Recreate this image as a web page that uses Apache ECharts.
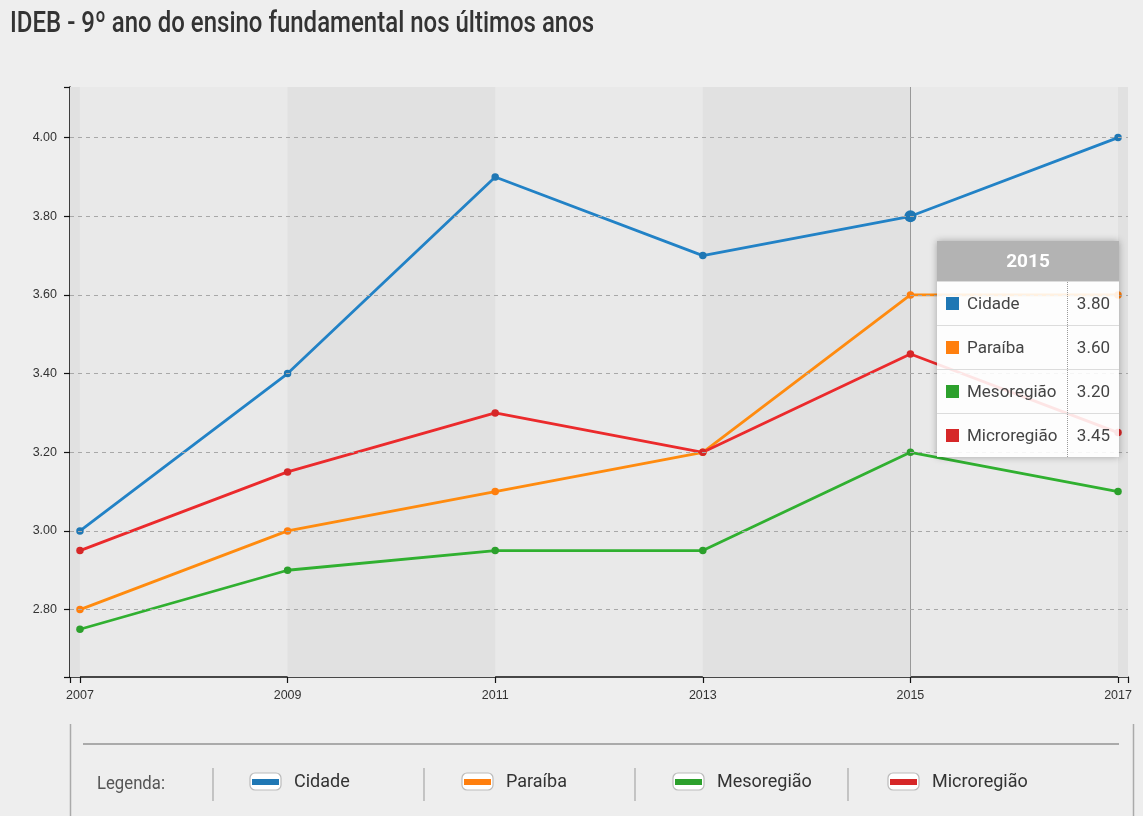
<!DOCTYPE html>
<html>
<head>
<meta charset="utf-8">
<script src="https://cdn.jsdelivr.net/npm/echarts@6/dist/echarts.min.js"></script>
<style>
html,body{margin:0;padding:0;background:#eeeeee;}
#chart{width:1143px;height:816px;}
</style>
</head>
<body>
<div id="chart"></div>
<script>
// ---- data ----
const titleText = 'IDEB - 9º ano do ensino fundamental nos últimos anos';
const years = [2007, 2009, 2011, 2013, 2015, 2017];
const seriesNames = ['Cidade', 'Paraíba', 'Mesoregião', 'Microregião'];
const cidade = [3.00, 3.40, 3.90, 3.70, 3.80, 4.00];
const paraiba = [2.80, 3.00, 3.10, 3.20, 3.60, 3.60];
const mesoregiao = [2.75, 2.90, 2.95, 2.95, 3.20, 3.10];
const microregiao = [2.95, 3.15, 3.30, 3.20, 3.45, 3.25];
const yTicks = [2.80, 3.00, 3.20, 3.40, 3.60, 3.80, 4.00];
const xMin = 2006.904, xMax = 2017.096;
const yMin = 2.6286, yMax = 4.1287;
const legendLabel = 'Legenda:';
const tipYearIndex = 4; // 2015

// ---- style ----
const colors = ['#1f77b4', '#ff7f0e', '#2ca02c', '#d62728'];
const values = [cidade, paraiba, mesoregiao, microregiao];
const bandDark = '#e1e1e1', bandLight = '#e9e9e9';

const chart = echarts.init(document.getElementById('chart'), null, {renderer: 'canvas'});

// alternating bands between year ticks
const bounds = [xMin].concat(years, [xMax]);
const darkBands = [];
for (let i = 0; i < bounds.length - 1; i += 2) {
  darkBands.push([{xAxis: bounds[i]}, {xAxis: bounds[i + 1]}]);
}

const dataSeries = seriesNames.map((name, k) => ({
  name: name,
  type: 'line',
  z: 3,
  data: years.map((y, i) => [y, values[k][i]]),
  symbol: 'circle',
  symbolSize: 7.5,
  showSymbol: true,
  color: colors[k],
  lineStyle: {width: 2.8, color: colors[k]},
  itemStyle: {color: colors[k], borderWidth: 0},
  emphasis: {
    scale: k === 0 ? 1.6 : false, focus: 'none',
    lineStyle: {width: 2.8},
    itemStyle: {color: colors[k], borderWidth: 0, borderColor: colors[k]}
  }
}));

const legendIconX = [250, 462, 673, 888];
const legends = seriesNames.map((name, k) => ({
  data: [name],
  left: legendIconX[k] + 2,
  top: 773,
  padding: 0,
  icon: 'rect',
  itemWidth: 27,
  itemHeight: 6,
  selectedMode: false,
  z: 10,
  textStyle: {fontFamily: 'Roboto', fontSize: 18, color: '#333', padding: [0, 0, 0, 10]}
}));

function tipFormatter(params) {
  const list = params.filter(p => seriesNames.indexOf(p.seriesName) >= 0);
  if (!list.length) return '';
  const year = list[0].value[0];
  let html = '<div style="font-family:Roboto,sans-serif;width:182px;">' +
    '<div style="background:#b3b3b3;color:#fff;font-weight:bold;font-size:19px;text-align:center;height:40px;line-height:40px;">' + year + '</div>';
  list.forEach(p => {
    html += '<div style="display:flex;height:43px;border-top:1px solid #dcdcdc;background:rgba(255,255,255,0.88);">' +
      '<div style="width:131px;box-sizing:border-box;border-right:1px dotted #999;display:flex;align-items:center;padding-left:9px;">' +
      '<span style="display:inline-block;width:13px;height:13px;background:' + p.color + ';margin-right:8px;"></span>' +
      '<span style="font-size:17px;color:#444;">' + p.seriesName + '</span></div>' +
      '<div style="flex:1;display:flex;align-items:center;justify-content:flex-end;padding-right:9px;font-size:17px;color:#444;">' +
      p.value[1].toFixed(2) + '</div></div>';
  });
  html += '</div>';
  return html;
}

const option = {
  backgroundColor: '#eeeeee',
  animation: false,
  grid: {left: 70, top: 87, width: 1058, height: 590, show: true, backgroundColor: bandLight, borderWidth: 0, containLabel: false},
  xAxis: {
    type: 'value', min: xMin, max: xMax,
    axisLine: {show: true, lineStyle: {color: '#111', width: 1.6}},
    axisTick: {show: true, length: 6, customValues: bounds, lineStyle: {color: '#111', width: 1.2}},
    axisLabel: {customValues: years, formatter: v => String(v), margin: 12, color: '#333', fontFamily: 'Liberation Sans', fontSize: 12.5},
    splitLine: {show: false}
  },
  yAxis: {
    type: 'value', min: yMin, max: yMax,
    axisLine: {show: true, lineStyle: {color: '#111', width: 1.6}},
    axisTick: {show: true, length: 6, customValues: [yMin].concat(yTicks, [yMax]), lineStyle: {color: '#111', width: 1.2}},
    axisLabel: {customValues: yTicks, formatter: v => v.toFixed(2), margin: 13, color: '#333', fontFamily: 'Liberation Sans', fontSize: 12.5},
    splitLine: {show: false}
  },
  legend: legends,
  tooltip: {
    trigger: 'axis',
    alwaysShowContent: true,
    triggerOn: 'none',
    transitionDuration: 0,
    padding: 0,
    borderWidth: 0,
    backgroundColor: 'rgba(255,255,255,0)',
    extraCssText: 'box-shadow:0 0 7px rgba(0,0,0,0.3);border-radius:0;',
    position: [937, 241],
    axisPointer: {type: 'line', lineStyle: {color: '#999', width: 1, type: 'solid'}, z: 1},
    formatter: tipFormatter
  },
  series: dataSeries.concat([
    {
      name: 'bands', type: 'line', data: [], z: 1, silent: true, symbol: 'none',
      markArea: {silent: true, itemStyle: {color: bandDark}, data: darkBands}
    },
    {
      name: 'grid', type: 'line', data: [], z: 2, silent: true, symbol: 'none',
      markLine: {silent: true, symbol: 'none', label: {show: false},
        lineStyle: {color: '#a8a8a8', width: 1, type: [4, 4]},
        data: yTicks.map(v => ({yAxis: v}))}
    }
  ]),
  graphic: [
    {type: 'text', x: 10, y: 9, scaleX: 0.8, style: {text: titleText, font: '500 30px Roboto', fill: '#333'}},
    {type: 'line', shape: {x1: 70.5, y1: 724, x2: 70.5, y2: 830}, style: {stroke: '#aaa', lineWidth: 1.5}},
    {type: 'line', shape: {x1: 1133.5, y1: 724, x2: 1133.5, y2: 830}, style: {stroke: '#aaa', lineWidth: 1.5}},
    {type: 'line', shape: {x1: 83, y1: 744, x2: 1119, y2: 744}, style: {stroke: '#aaa', lineWidth: 2}},
    {type: 'text', x: 97, y: 775, scaleX: 0.88, style: {text: legendLabel, font: '19px Roboto', fill: '#555'}},
    {type: 'line', shape: {x1: 213, y1: 768, x2: 213, y2: 801}, style: {stroke: '#999', lineWidth: 1}},
    {type: 'line', shape: {x1: 424, y1: 768, x2: 424, y2: 801}, style: {stroke: '#999', lineWidth: 1}},
    {type: 'line', shape: {x1: 635, y1: 768, x2: 635, y2: 801}, style: {stroke: '#999', lineWidth: 1}},
    {type: 'line', shape: {x1: 848, y1: 768, x2: 848, y2: 801}, style: {stroke: '#999', lineWidth: 1}}
  ].concat(legendIconX.map(x => ({
    type: 'rect', z: 5, shape: {x: x, y: 773, width: 31, height: 17, r: 5},
    style: {fill: '#fff', stroke: '#bbb', lineWidth: 1.2}
  })))
};

chart.setOption(option);
chart.dispatchAction({type: 'showTip', seriesIndex: 0, dataIndex: tipYearIndex});
</script>
</body>
</html>
